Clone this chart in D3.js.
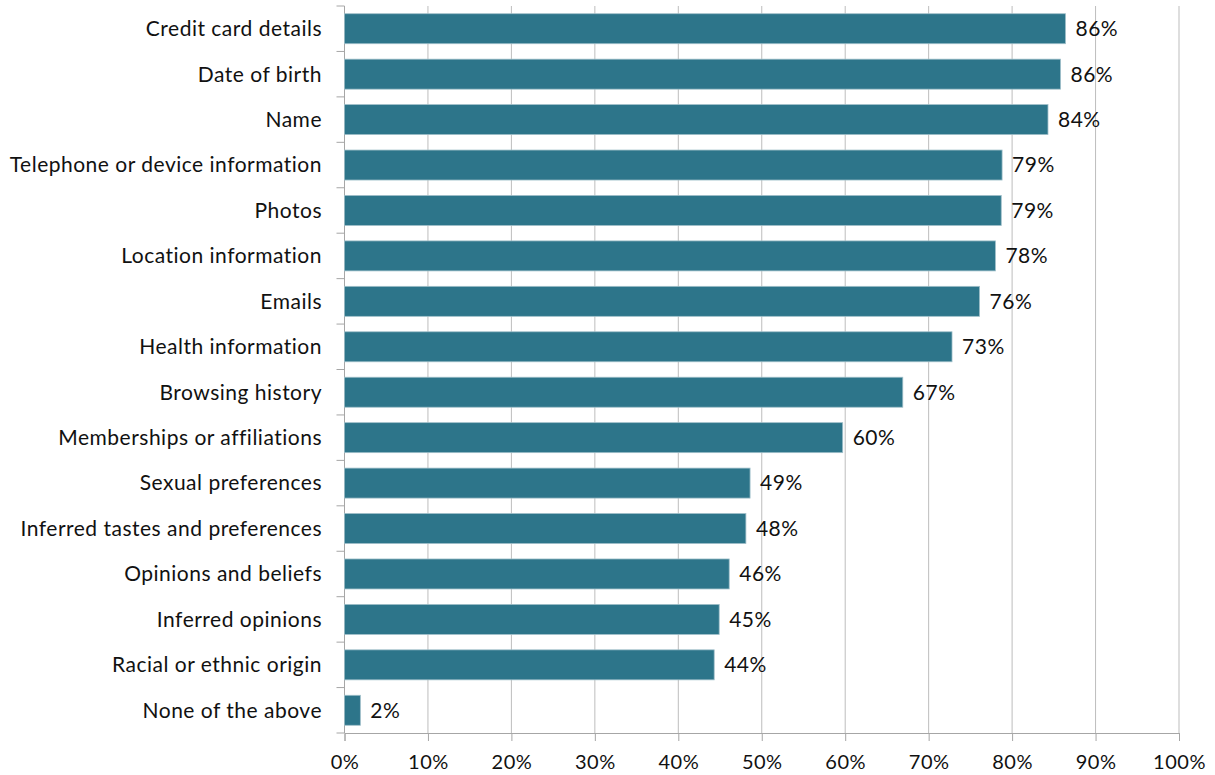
<!DOCTYPE html>
<html>
<head>
    <title>Bar</title>
    <script src="https://cdn.jsdelivr.net/npm/d3@7"></script>
    <style>
        body { margin: 0; background: #fff; }
        text { font-family: Lato, "Open Sans", sans-serif; fill: #111; letter-spacing: 0.5px; }
    </style>
</head>
<body>
    <svg width="1215" height="775" id="mainsvg"></svg>
    <script>
        const categories = ['Credit card details', 'Date of birth', 'Name', 'Telephone or device information',
            'Photos', 'Location information', 'Emails', 'Health information', 'Browsing history',
            'Memberships or affiliations', 'Sexual preferences', 'Inferred tastes and preferences',
            'Opinions and beliefs', 'Inferred opinions', 'Racial or ethnic origin', 'None of the above'];
        const values = [86.4, 85.8, 84.3, 78.8, 78.7, 78.0, 76.1, 72.8, 66.9, 59.7, 48.6, 48.1, 46.1, 44.9, 44.3, 1.9];
        const labels = ['86%', '86%', '84%', '79%', '79%', '78%', '76%', '73%', '67%', '60%', '49%', '48%', '46%', '45%', '44%', '2%'];
        const xTicks = [0, 10, 20, 30, 40, 50, 60, 70, 80, 90, 100];

        const svg = d3.select('svg');
        const plotLeft = 344.5, plotRight = 1179, plotTop = 6, plotBottom = 733;
        const data = categories.map((c, i) => ({ cat: c, value: values[i], label: labels[i] }));

        const x = d3.scaleLinear().domain([0, 100]).range([plotLeft, plotRight]);
        const y = d3.scaleBand().domain(categories).range([plotTop, plotBottom]).paddingInner(0.34).paddingOuter(0.17);
        const step = y.step();

        // vertical gridlines
        svg.selectAll('.grid').data(xTicks.slice(1)).join('line').attr('class', 'grid')
            .attr('x1', d => x(d)).attr('x2', d => x(d)).attr('y1', plotTop).attr('y2', plotBottom)
            .attr('stroke', '#bdbdbd').attr('stroke-width', 1);

        // left axis line + ticks between categories
        svg.append('line').attr('x1', plotLeft).attr('x2', plotLeft).attr('y1', plotTop).attr('y2', plotBottom)
            .attr('stroke', '#a6a6a6');
        svg.selectAll('.ytick').data(d3.range(categories.length + 1)).join('line').attr('class', 'ytick')
            .attr('x1', plotLeft - 8).attr('x2', plotLeft)
            .attr('y1', i => plotTop + i * step).attr('y2', i => plotTop + i * step)
            .attr('stroke', '#a6a6a6');

        // bottom axis
        const xAxis = d3.axisBottom(x).tickValues(xTicks).tickFormat(d => d + '%').tickSize(8).tickPadding(14);
        const gx = svg.append('g').attr('transform', `translate(0,${plotBottom})`).call(xAxis);
        gx.select('.domain').attr('stroke', '#a6a6a6');
        gx.selectAll('.tick line').attr('stroke', '#a6a6a6');
        gx.selectAll('text').attr('font-size', 20).attr('font-family', 'Lato, sans-serif').attr('fill', '#111');

        // bars
        svg.selectAll('.bar').data(data).join('rect').attr('class', 'bar')
            .attr('x', x(0)).attr('y', d => y(d.cat))
            .attr('width', d => x(d.value) - x(0)).attr('height', y.bandwidth())
            .attr('fill', '#2d758a').attr('stroke', '#9fbfc9').attr('stroke-width', 0.8);

        // category labels
        svg.selectAll('.cat').data(data).join('text').attr('class', 'cat')
            .attr('x', 322).attr('y', d => y(d.cat) + y.bandwidth() / 2).attr('dy', '0.35em')
            .attr('text-anchor', 'end').attr('font-size', 21).text(d => d.cat);

        // value labels
        svg.selectAll('.val').data(data).join('text').attr('class', 'val')
            .attr('x', d => x(d.value) + 10).attr('y', d => y(d.cat) + y.bandwidth() / 2).attr('dy', '0.35em')
            .attr('font-size', 21).text(d => d.label);
    </script>
</body>
</html>
